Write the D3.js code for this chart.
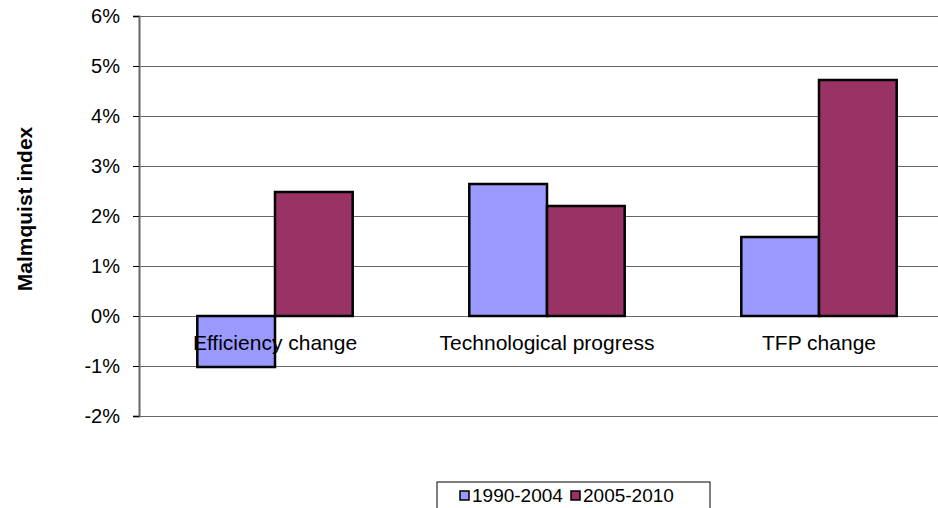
<!DOCTYPE html>
<html>
<head>
<meta charset="utf-8">
<script src="https://cdn.jsdelivr.net/npm/d3@7"></script>
<style>
  body { margin: 0; background: #fff; }
  text { font-family: "Liberation Sans", Arial, sans-serif; }
</style>
</head>
<body>
<div id="canvas"></div>
<script>
const categories = ["Efficiency change", "Technological progress", "TFP change"]
const seriesNames = ["1990-2004", "2005-2010"]
const series1990 = [-1.02, 2.64, 1.58]
const series2005 = [2.48, 2.2, 4.72]
const yTicks = [-2, -1, 0, 1, 2, 3, 4, 5, 6]
const colors = ["#9999ff", "#993366"]

const width = 938
const height = 508
const margin = { top: 16, left: 139, bottom: 92, right: -17 }
const iwidth = width - margin.left - margin.right
const iheight = height - margin.top - margin.bottom

const svg = d3.select("#canvas").append("svg")
    .attr("width", width)
    .attr("height", height)

const g = svg.append("g")
    .attr("transform", `translate(${margin.left}, ${margin.top})`)

const y = d3.scaleLinear()
    .domain([-2, 6])
    .range([iheight, 0])

const x = d3.scaleBand()
    .domain(categories)
    .range([0, iwidth])
    .paddingInner(0.4286)
    .paddingOuter(0.2143)

const xs = d3.scaleBand()
    .domain(seriesNames)
    .range([0, x.bandwidth()])

// gridlines
g.selectAll(".grid")
    .data(yTicks)
    .enter()
    .append("line")
    .attr("x1", 0)
    .attr("x2", iwidth)
    .attr("y1", d => y(d))
    .attr("y2", d => y(d))
    .attr("stroke", "#666")
    .attr("stroke-width", 1)
    .attr("shape-rendering", "crispEdges")

const data = categories.map((c, i) => ({
    cat: c,
    vals: [
        { s: seriesNames[0], v: series1990[i], c: colors[0] },
        { s: seriesNames[1], v: series2005[i], c: colors[1] }
    ]
}))

const groups = g.selectAll(".cat")
    .data(data)
    .enter()
    .append("g")
    .attr("transform", d => `translate(${x(d.cat)}, 0)`)

groups.selectAll("rect")
    .data(d => d.vals)
    .enter()
    .append("rect")
    .attr("x", d => xs(d.s))
    .attr("width", xs.bandwidth())
    .attr("y", d => y(Math.max(0, d.v)))
    .attr("height", d => Math.abs(y(d.v) - y(0)))
    .attr("fill", d => d.c)
    .attr("stroke", "#000")
    .attr("stroke-width", 2.5)

// category labels
g.selectAll(".catlabel")
    .data(categories)
    .enter()
    .append("text")
    .attr("x", d => x(d) + x.bandwidth() / 2)
    .attr("y", y(0) + 34)
    .attr("text-anchor", "middle")
    .style("font-size", "21px")
    .attr("fill", "#000")
    .text(d => d)

// y axis
const yAxis = g.append("g")
    .call(d3.axisLeft(y).tickValues(yTicks).tickSize(6).tickPadding(13).tickFormat(d => d + "%"))
yAxis.select(".domain").attr("stroke", "#666").attr("stroke-width", 2)
yAxis.selectAll(".tick line").attr("stroke", "#000")
yAxis.selectAll(".tick text")
    .style("font-size", "20px")
    .attr("fill", "#000")
    .attr("font-family", "Liberation Sans, Arial, sans-serif")

svg.append("text")
    .attr("transform", `translate(32, ${209}) rotate(-90)`)
    .attr("text-anchor", "middle")
    .style("font-size", "21px")
    .style("font-weight", "bold")
    .text("Malmquist index")

// legend
const legend = svg.append("g").attr("transform", "translate(437, 482)")
legend.append("rect")
    .attr("x", 0).attr("y", 0)
    .attr("width", 273).attr("height", 40)
    .attr("fill", "#fff")
    .attr("stroke", "#000")
    .attr("stroke-width", 1)

const items = legend.selectAll(".item")
    .data(seriesNames)
    .enter()
    .append("g")
    .attr("transform", (d, i) => `translate(${23 + i * 111}, 8)`)

items.append("rect")
    .attr("width", 9).attr("height", 9)
    .attr("y", 1)
    .attr("fill", (d, i) => colors[i])
    .attr("stroke", "#000")
    .attr("stroke-width", 1.5)

items.append("text")
    .attr("x", 12)
    .attr("y", 12)
    .style("font-size", "19px")
    .text(d => d)
</script>
</body>
</html>
